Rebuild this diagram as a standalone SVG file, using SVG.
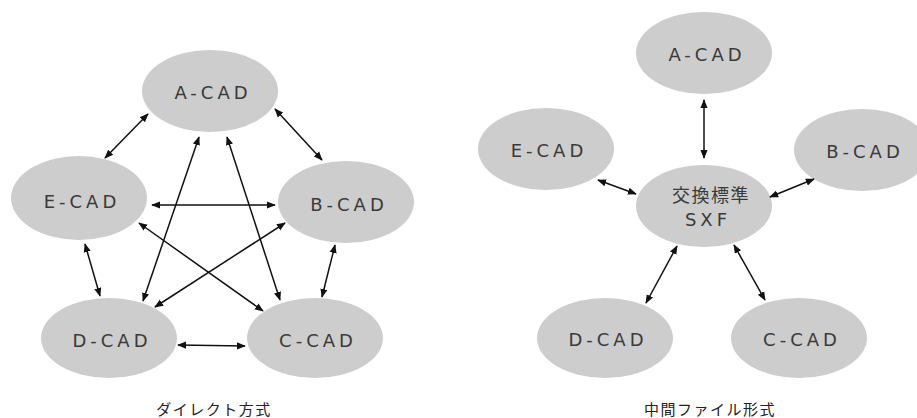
<svg xmlns="http://www.w3.org/2000/svg" width="917" height="418" viewBox="0 0 917 418">
  <defs>
    <style>
      .node ellipse { fill: #cdcdcd; }
      .node text { font-family: "DejaVu Sans", "Noto Sans CJK JP", sans-serif; font-size: 18px; fill: #3a3a3a; letter-spacing: 4px; text-anchor: middle; }
      .node text.jp { font-family: "Noto Sans CJK JP", sans-serif; font-size: 18px; letter-spacing: 1.5px; }
      .edges line { stroke: #111; stroke-width: 1.5; marker-start: url(#arr); marker-end: url(#arr); }
      .caption { font-family: "Noto Sans CJK JP", sans-serif; font-size: 15px; fill: #222; text-anchor: middle; letter-spacing: 1.5px; }
    </style>
    <marker id="arr" viewBox="0 0 10 10" refX="9" refY="5" markerWidth="6" markerHeight="6" orient="auto-start-reverse" markerUnits="strokeWidth">
      <path d="M0,1 L10,5 L0,9 Z" fill="#111"/>
    </marker>
  </defs>
  <rect width="917" height="418" fill="#fff"/>

  <!-- Direct exchange: every CAD talks to every other -->
  <g id="left-nodes">
    <g id="l-a" class="node"><ellipse cx="210" cy="91" rx="68" ry="41"/><text x="213" y="99">A-CAD</text></g>
    <g id="l-e" class="node"><ellipse cx="79" cy="198" rx="68" ry="42"/><text x="82" y="208">E-CAD</text></g>
    <g id="l-b" class="node"><ellipse cx="346" cy="202" rx="68" ry="41"/><text x="349" y="211">B-CAD</text></g>
    <g id="l-d" class="node"><ellipse cx="109" cy="338" rx="68" ry="40"/><text x="112" y="347">D-CAD</text></g>
    <g id="l-c" class="node"><ellipse cx="315" cy="338" rx="68" ry="40"/><text x="318" y="347">C-CAD</text></g>
  </g>
  <g id="left-edges" class="edges">
    <line x1="148" y1="114" x2="105" y2="158"/>
    <line x1="275" y1="109" x2="322" y2="160"/>
    <line x1="199" y1="137" x2="143" y2="301"/>
    <line x1="227" y1="137" x2="280" y2="300"/>
    <line x1="152" y1="205" x2="275" y2="205"/>
    <line x1="139" y1="223" x2="263" y2="311"/>
    <line x1="285" y1="223" x2="155" y2="307"/>
    <line x1="85" y1="244" x2="100" y2="296"/>
    <line x1="335" y1="245" x2="322" y2="297"/>
    <line x1="178" y1="345" x2="245" y2="346"/>
  </g>
  <text class="caption" x="214" y="415">ダイレクト方式</text>

  <!-- Neutral format: all CADs go through SXF -->
  <g id="right-nodes">
    <g id="r-a" class="node"><ellipse cx="704" cy="53" rx="68" ry="41"/><text x="707" y="61">A-CAD</text></g>
    <g id="r-e" class="node"><ellipse cx="546" cy="149" rx="68" ry="41"/><text x="549" y="157">E-CAD</text></g>
    <g id="r-b" class="node"><ellipse cx="862" cy="150" rx="68" ry="41"/><text x="865" y="158">B-CAD</text></g>
    <g id="r-sxf" class="node"><ellipse cx="704" cy="206" rx="68" ry="41"/><text class="jp" x="711" y="202">交換標準</text><text x="708" y="226">SXF</text></g>
    <g id="r-d" class="node"><ellipse cx="605" cy="338" rx="68" ry="40"/><text x="608" y="346">D-CAD</text></g>
    <g id="r-c" class="node"><ellipse cx="799" cy="338" rx="68" ry="40"/><text x="802" y="346">C-CAD</text></g>
  </g>
  <g id="right-edges" class="edges">
    <line x1="704" y1="100" x2="704" y2="158"/>
    <line x1="598" y1="180" x2="636" y2="194"/>
    <line x1="814" y1="179" x2="770" y2="197"/>
    <line x1="677" y1="246" x2="646" y2="303"/>
    <line x1="734" y1="245" x2="765" y2="300"/>
  </g>
  <text class="caption" x="710" y="415">中間ファイル形式</text>
</svg>
